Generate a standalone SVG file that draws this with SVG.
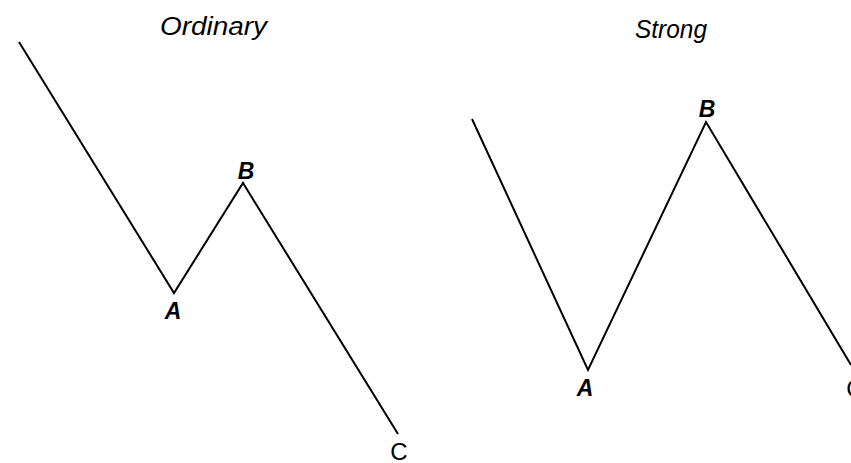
<svg xmlns="http://www.w3.org/2000/svg" width="851" height="463" viewBox="0 0 851 463">
<style>
.ln{fill:none;stroke:#000;stroke-width:2;stroke-linejoin:miter;stroke-linecap:butt}
.title{font-family:"Liberation Sans",sans-serif;font-style:italic;font-size:26px;fill:#000}
.lbl{font-family:"Liberation Sans",sans-serif;font-style:italic;font-weight:bold;font-size:23px;fill:#000;text-anchor:middle}
.lblc{font-family:"Liberation Sans",sans-serif;font-size:24px;fill:#000;text-anchor:middle}
</style>
<rect width="851" height="463" fill="#fff"/>
<g id="connectors">
<polyline class="ln" points="19,42 174,293 243,183 398,434"/>
<polyline class="ln" points="472,119 588,370 706,122 851,365"/>
</g>
<g id="title-ordinary"><text class="title" x="160" y="35" textLength="107" lengthAdjust="spacingAndGlyphs">Ordinary</text></g>
<g id="title-strong"><text class="title" x="635" y="38" textLength="72" lengthAdjust="spacingAndGlyphs">Strong</text></g>
<g id="ordinary-A"><text class="lbl" x="173" y="319">A</text></g>
<g id="ordinary-B"><text class="lbl" x="246" y="179">B</text></g>
<g id="ordinary-C"><text class="lblc" x="399" y="460">C</text></g>
<g id="strong-A"><text class="lbl" x="585" y="396">A</text></g>
<g id="strong-B"><text class="lbl" x="707" y="117">B</text></g>
<g id="strong-C"><text class="lblc" x="855" y="397">C</text></g>
</svg>
